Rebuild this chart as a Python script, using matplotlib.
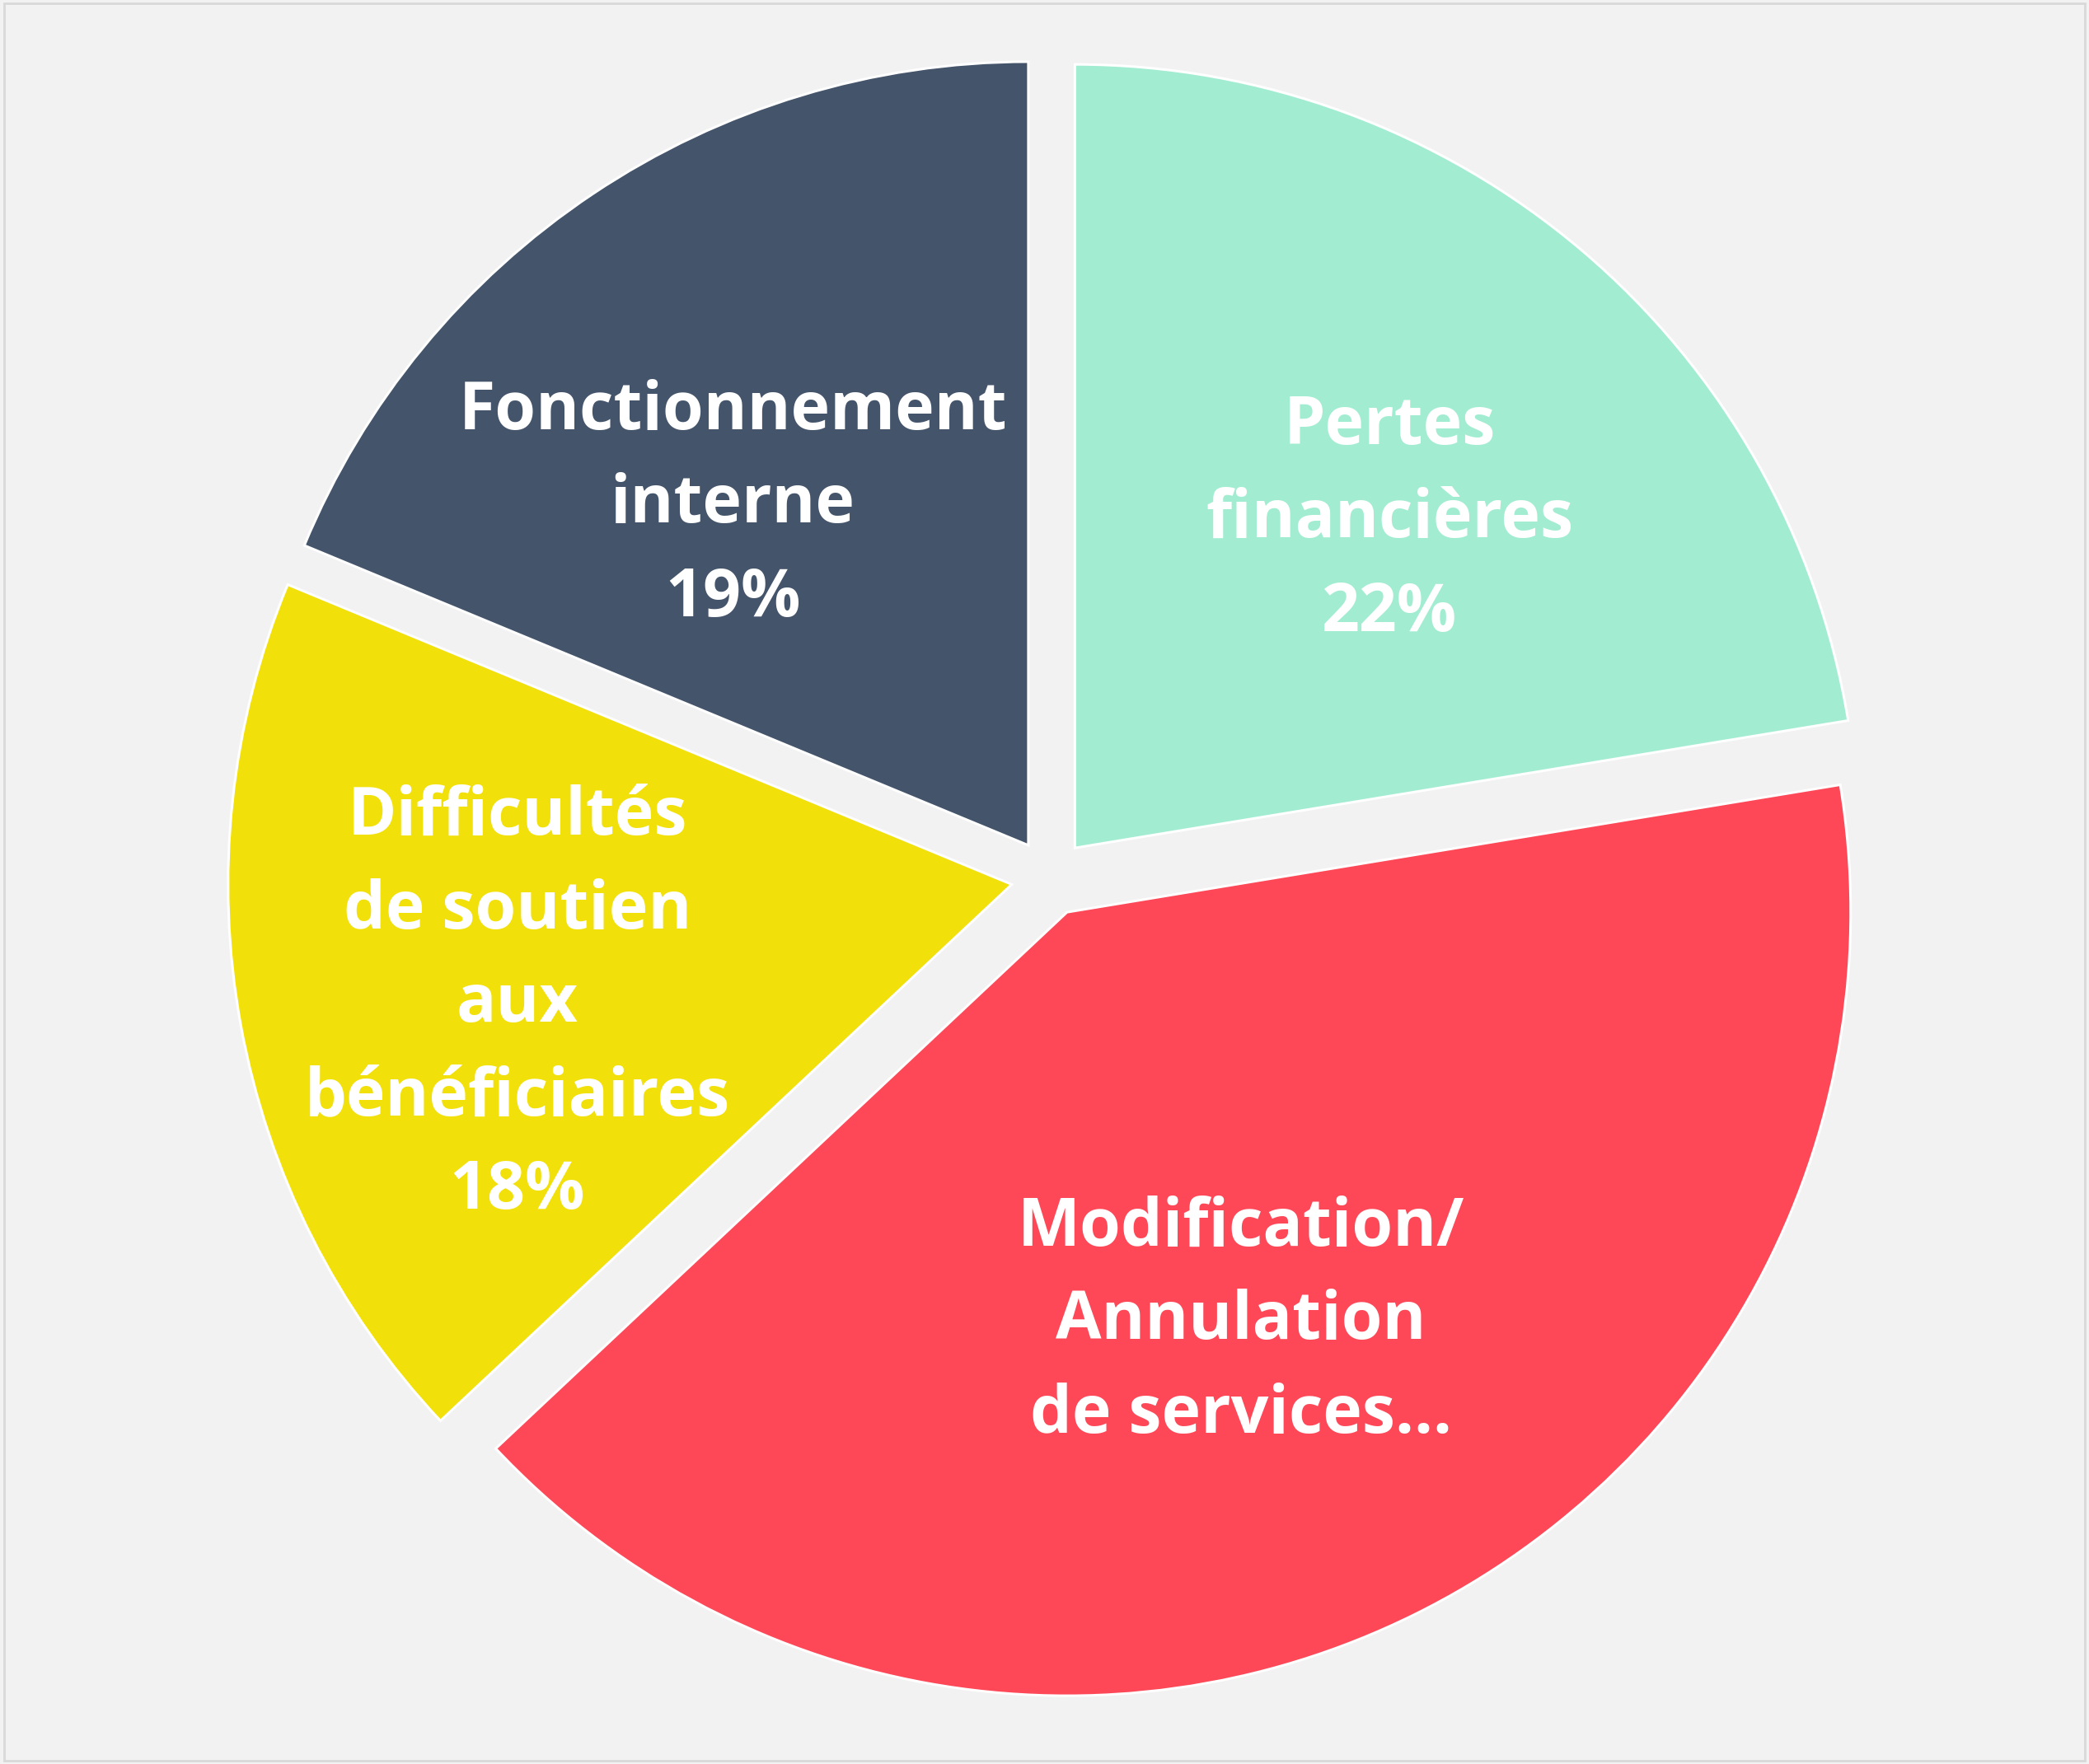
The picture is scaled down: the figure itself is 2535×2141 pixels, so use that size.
import math
import matplotlib
matplotlib.use("Agg")
import matplotlib.pyplot as plt

# data
categories = ["Pertes\nfinancières", "Modification/\nAnnulation\nde services...",
              "Difficultés\nde soutien\naux\nbénéficiaires", "Fonctionnement\ninterne"]
shares = [22.4, 40.6, 18.25, 18.75]
show_pct = [True, False, True, True]
colors = ["#A2EDD2", "#FE4858", "#F2E00A", "#44546A"]

W, H = 2535, 2141
fig = plt.figure(figsize=(W / 100, H / 100), dpi=100, facecolor="#F2F2F2")
ax = fig.add_axes([0, 0, 1, 1])

# light border round the chart area
fig.patches.append(plt.Rectangle((0.002, 0.002), 0.996, 0.996, transform=fig.transFigure,
                                 fill=False, edgecolor="#D9D9D9", linewidth=2))

R = 951
wedges, _ = ax.pie(shares, colors=colors, startangle=90, counterclock=False,
                   center=(1274, 1076), radius=R, explode=[47] * 4,
                   wedgeprops=dict(edgecolor="white", linewidth=2.2))
# pie resets the limits, so set them after
ax.set_xlim(0, W)
ax.set_ylim(0, H)
ax.set_aspect("equal")
ax.axis("off")

# label placement: (fraction of radius, angle shift in degrees)
label_pos = [(0.58, -3.5), (0.568, -3.3), (0.649, 3.3), (0.575, 7.25)]

for w, cat, val, pct, (fr, dth) in zip(wedges, categories, shares, show_pct, label_pos):
    mid = math.radians((w.theta1 + w.theta2) / 2 + dth)
    cx, cy = w.center
    txt = cat + ("\n%d%%" % round(val) if pct else "")
    ax.text(cx + fr * R * math.cos(mid), cy + fr * R * math.sin(mid), txt,
            ha="center", va="center", color="white", fontsize=58,
            fontweight="bold", family="Open Sans", linespacing=1.55)

fig.savefig("out.png", dpi=100, facecolor=fig.get_facecolor())
